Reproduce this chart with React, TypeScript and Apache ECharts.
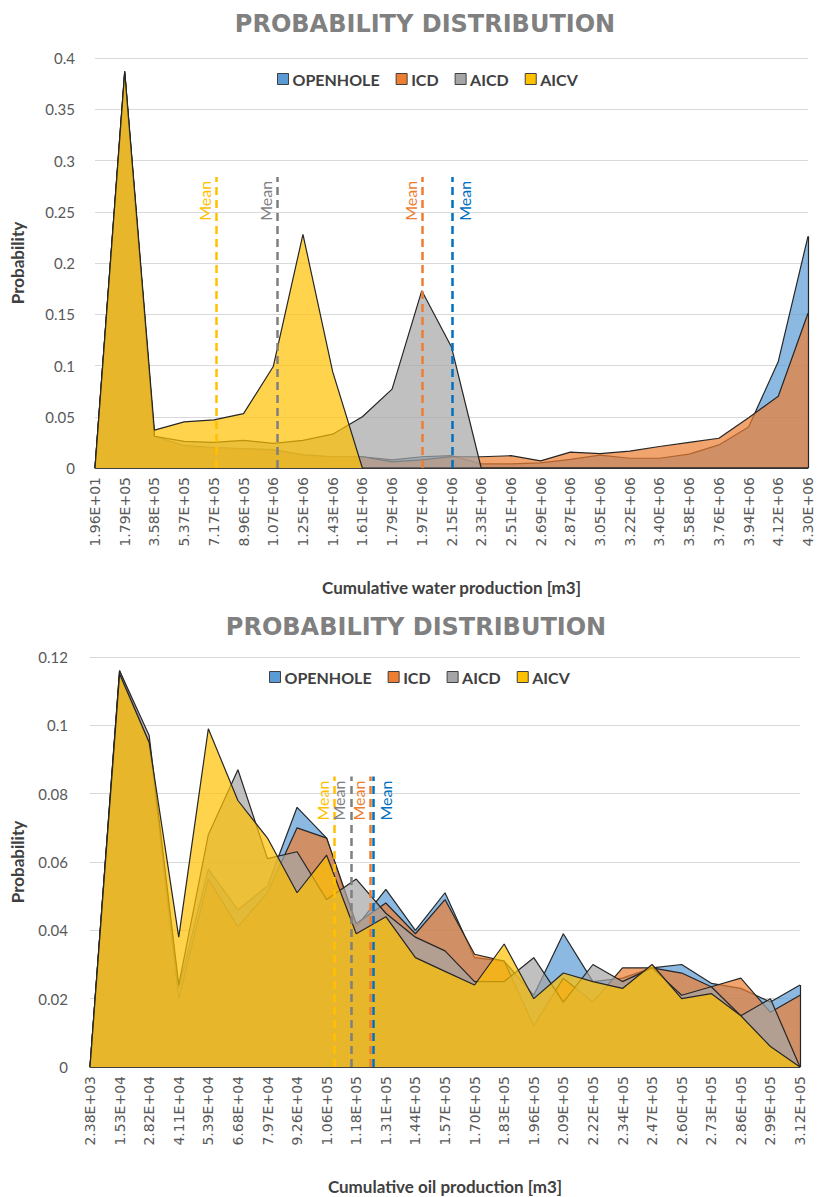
import React, { useEffect, useRef } from 'react';
import * as echarts from 'echarts';

// ---------- categories (tick labels) ----------
const waterCategories = ['1.96E+01', '1.79E+05', '3.58E+05', '5.37E+05', '7.17E+05', '8.96E+05', '1.07E+06', '1.25E+06', '1.43E+06', '1.61E+06', '1.79E+06', '1.97E+06', '2.15E+06', '2.33E+06', '2.51E+06', '2.69E+06', '2.87E+06', '3.05E+06', '3.22E+06', '3.40E+06', '3.58E+06', '3.76E+06', '3.94E+06', '4.12E+06', '4.30E+06'];
const oilCategories = ['2.38E+03', '1.53E+04', '2.82E+04', '4.11E+04', '5.39E+04', '6.68E+04', '7.97E+04', '9.26E+04', '1.06E+05', '1.18E+05', '1.31E+05', '1.44E+05', '1.57E+05', '1.70E+05', '1.83E+05', '1.96E+05', '2.09E+05', '2.22E+05', '2.34E+05', '2.47E+05', '2.60E+05', '2.73E+05', '2.86E+05', '2.99E+05', '3.12E+05'];

// ---------- water production probabilities ----------
const waterOpenhole = [0, 0.387, 0.031, 0.021, 0.019, 0.018, 0.017, 0.012, 0.011, 0.011, 0.008, 0.011, 0.012, 0.004, 0.004, 0.005, 0.0085, 0.0125, 0.0095, 0.0095, 0.0135, 0.0225, 0.040, 0.104, 0.226];
const waterICD = [0, 0.385, 0.031, 0.022, 0.020, 0.019, 0.018, 0.013, 0.011, 0.011, 0.006, 0.008, 0.011, 0.011, 0.012, 0.007, 0.0155, 0.014, 0.0165, 0.021, 0.025, 0.029, 0.049, 0.070, 0.151];
const waterAICD = [0, 0.384, 0.031, 0.026, 0.025, 0.027, 0.024, 0.027, 0.033, 0.050, 0.077, 0.173, 0.118, 0, 0, 0, 0, 0, 0, 0, 0, 0, 0, 0, 0];
const waterAICV = [0, 0.387, 0.037, 0.045, 0.047, 0.053, 0.099, 0.228, 0.094, 0, 0, 0, 0, 0, 0, 0, 0, 0, 0, 0, 0, 0, 0, 0, 0];

// ---------- oil production probabilities ----------
const oilOpenhole = [0, 0.116, 0.095, 0.023, 0.058, 0.046, 0.053, 0.076, 0.067, 0.041, 0.052, 0.040, 0.051, 0.032, 0.031, 0.021, 0.039, 0.025, 0.026, 0.029, 0.030, 0.0245, 0.023, 0.019, 0.024];
const oilICD = [0, 0.115, 0.095, 0.020, 0.055, 0.041, 0.051, 0.070, 0.067, 0.042, 0.048, 0.039, 0.049, 0.033, 0.031, 0.012, 0.026, 0.019, 0.029, 0.029, 0.0275, 0.0235, 0.026, 0.016, 0.021];
const oilAICD = [0, 0.116, 0.097, 0.024, 0.068, 0.087, 0.061, 0.063, 0.049, 0.055, 0.045, 0.038, 0.034, 0.025, 0.025, 0.032, 0.019, 0.030, 0.025, 0.029, 0.021, 0.0235, 0.015, 0.020, 0];
const oilAICV = [0, 0.115, 0.095, 0.038, 0.099, 0.078, 0.067, 0.051, 0.062, 0.039, 0.044, 0.032, 0.028, 0.024, 0.036, 0.020, 0.0275, 0.025, 0.023, 0.030, 0.020, 0.0215, 0.015, 0.006, 0];

// ---------- series meta ----------
const seriesNames = ['OPENHOLE', 'ICD', 'AICD', 'AICV'];
const seriesColors = ['#5B9BD5', '#ED7D31', '#A5A5A5', '#FFC000'];
const meanColors = ['#0070C0', '#ED7D31', '#7F7F7F', '#FFC000'];
// mean positions, in category-index units (OPENHOLE, ICD, AICD, AICV)
const waterMeans = [12.03, 11.03, 6.13, 4.08];
const oilMeans = [9.59, 9.48, 8.82, 8.26];
const waterMeanTop = 0.284;
const oilMeanTop = 0.085;

const waterSeries = [waterOpenhole, waterICD, waterAICD, waterAICV];
const oilSeries = [oilOpenhole, oilICD, oilAICD, oilAICV];

const FONT = 'Lato, "Open Sans", sans-serif';
const LABEL_FONT = '"DejaVu Sans", sans-serif';

function areaSeries(values: number[][], xIdx: number, yIdx: number) {
  return values.map((v, i) => ({
    type: 'line',
    name: seriesNames[i],
    xAxisIndex: xIdx,
    yAxisIndex: yIdx,
    data: v,
    z: 2 + i,
    symbol: 'none',
    silent: true,
    itemStyle: { color: seriesColors[i] },
    lineStyle: { color: '#262626', width: 1.2 },
    areaStyle: { color: seriesColors[i], opacity: 0.7 },
  }));
}

// dashed "Mean" markers plus the closing edge of the tallest last value
function meanSeries(means: number[], top: number, values: number[][], xIdx: number, yIdx: number) {
  const last = values[0].length - 1;
  const edgeTop = Math.max(...values.map((v) => v[last]));
  const meanLines = means.map((m, i) => {
    const style = {
      lineStyle: { color: meanColors[i], type: [8, 5], width: 2.5 },
      label: {
        show: true,
        formatter: 'Mean',
        position: i === 0 ? 'insideEndBottom' : 'insideEndTop',
        color: meanColors[i],
        fontFamily: FONT,
        fontSize: 16,
        distance: 4,
      },
    };
    return [
      { coord: [m, 0], ...style },
      { coord: [m, top], ...style },
    ];
  });
  const edgeStyle = { lineStyle: { color: '#262626', type: 'solid', width: 1.2 }, label: { show: false } };
  return {
    type: 'line',
    name: 'mean',
    xAxisIndex: xIdx,
    yAxisIndex: yIdx,
    data: [],
    z: 10,
    silent: true,
    markLine: {
      silent: true,
      animation: false,
      z: 10,
      symbol: ['none', 'none'],
      data: [
        ...meanLines,
        [
          { coord: [last, 0], ...edgeStyle },
          { coord: [last, edgeTop], ...edgeStyle },
        ],
      ],
    },
  };
}

function categoryAxis(data: string[], gridIndex: number, name: string) {
  return {
    type: 'category',
    gridIndex,
    data,
    boundaryGap: false,
    name,
    nameLocation: 'middle',
    nameGap: 111,
    nameTextStyle: { fontFamily: FONT, fontWeight: 'bold', fontSize: 17, color: '#404040' },
    axisLine: { show: true, lineStyle: { color: '#404040', width: 1 } },
    axisTick: { show: false },
    axisLabel: { interval: 0, rotate: 90, margin: 9, fontFamily: LABEL_FONT, fontSize: 14, color: '#595959' },
    splitLine: { show: false },
  };
}

function valueAxis(gridIndex: number, max: number, interval: number, gap: number, margin: number) {
  return {
    type: 'value',
    gridIndex,
    min: 0,
    max,
    interval,
    name: 'Probability',
    nameLocation: 'middle',
    nameGap: gap,
    nameTextStyle: { fontFamily: FONT, fontWeight: 'bold', fontSize: 17, color: '#404040' },
    axisLine: { show: false },
    axisTick: { show: false },
    axisLabel: { fontFamily: FONT, fontSize: 15, color: '#595959', margin },
    splitLine: { lineStyle: { color: '#D9D9D9', width: 1 } },
  };
}

function legend(left: number, top: number) {
  return {
    data: seriesNames,
    left,
    top,
    icon: 'rect',
    itemWidth: 11,
    itemHeight: 11,
    itemGap: 16,
    itemStyle: { borderColor: '#404040', borderWidth: 1 },
    textStyle: { fontFamily: FONT, fontWeight: 'bold', fontSize: 16, color: '#404040', padding: [0, 0, 0, -1] },
  };
}

const titleStyle = { fontFamily: '"DejaVu Sans", sans-serif', fontWeight: 'bold', fontSize: 24, color: '#808080' };

export default function App() {
  const ref = useRef<HTMLDivElement>(null);

  useEffect(() => {
    document.body.style.margin = '0';
    if (!ref.current) return;
    const chart = echarts.init(ref.current, null, { renderer: 'svg' });
    chart.setOption({
      animation: false,
      backgroundColor: '#ffffff',
      title: [
        { text: 'PROBABILITY DISTRIBUTION', left: 420, top: 7, textAlign: 'center', textStyle: titleStyle },
        { text: 'PROBABILITY DISTRIBUTION', left: 411, top: 610, textAlign: 'center', textStyle: titleStyle },
      ],
      legend: [legend(272, 66), legend(264, 664)],
      grid: [
        { left: 95, top: 58, width: 713, height: 410 },
        { left: 90, top: 657, width: 710, height: 410 },
      ],
      xAxis: [
        categoryAxis(waterCategories, 0, 'Cumulative water production [m3]'),
        { type: 'value', gridIndex: 0, min: 0, max: waterCategories.length - 1, show: false },
        categoryAxis(oilCategories, 1, 'Cumulative oil production [m3]'),
        { type: 'value', gridIndex: 1, min: 0, max: oilCategories.length - 1, show: false },
      ],
      yAxis: [valueAxis(0, 0.4, 0.05, 69, 20), valueAxis(1, 0.12, 0.02, 64, 22)],
      series: [
        ...areaSeries(waterSeries, 0, 0),
        meanSeries(waterMeans, waterMeanTop, waterSeries, 1, 0),
        ...areaSeries(oilSeries, 2, 1),
        meanSeries(oilMeans, oilMeanTop, oilSeries, 3, 1),
      ],
    });
    return () => chart.dispose();
  }, []);

  return <div ref={ref} style={{ width: 819, height: 1197 }} />;
}
